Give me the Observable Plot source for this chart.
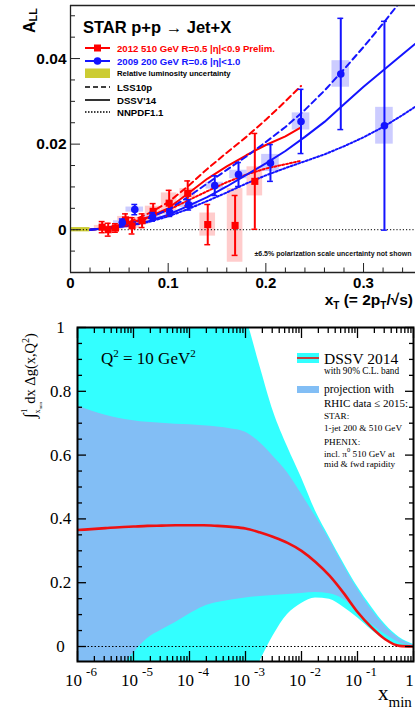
<!DOCTYPE html>
<html><head><meta charset="utf-8">
<script src="https://cdn.jsdelivr.net/npm/d3@7"></script>
<script src="https://cdn.jsdelivr.net/npm/@observablehq/plot@0.6"></script>
<style>
body{margin:0;background:#fff;}
svg{display:block;}
</style>
</head><body>
<div id="topPanel"></div>
<div id="botPanel"></div>
<script>
// ---------------- TOP PANEL DATA (STAR A_LL vs x_T) ----------------
const redX    = [0.0324, 0.0386, 0.046, 0.0563, 0.063, 0.0733, 0.0846, 0.101, 0.120, 0.1405, 0.1685, 0.1887];
const redY    = [0.0006, 0.0000, 0.0004, 0.0023, 0.0009, 0.0021, 0.0043, 0.0062, 0.0085, 0.0012, 0.0010, 0.0113];
const redStat = [0.0013, 0.0015, 0.0010, 0.0014, 0.0019, 0.0016, 0.0018, 0.0030, 0.0029, 0.0047, 0.0070, 0.0112];
const redSys  = [0.0004, 0.0004, 0.0004, 0.0008, 0.0006, 0.0008, 0.0012, 0.0024, 0.0011, 0.0027, 0.0086, 0.0034];

const blueX    = [0.053, 0.0658, 0.084, 0.1017, 0.121, 0.1477, 0.172, 0.2047, 0.236, 0.2767, 0.3214];
const blueY    = [0.0017, 0.0047, 0.0030, 0.0040, 0.0058, 0.0103, 0.0129, 0.0156, 0.0253, 0.0364, 0.0243];
const blueStat = [0.0008, 0.0012, 0.0010, 0.0009, 0.0012, 0.0023, 0.0028, 0.0043, 0.0075, 0.0130, 0.0244];
const blueSys  = [0.0004, 0.0006, 0.0004, 0.0005, 0.0006, 0.0008, 0.0010, 0.0020, 0.0020, 0.0031, 0.0043];

const theoryX510 = [0.02, 0.04, 0.06, 0.08, 0.10, 0.12, 0.14, 0.16, 0.18, 0.20, 0.22, 0.236];
const lss510     = [0, 0.0006, 0.0018, 0.0038, 0.0064, 0.0101, 0.0142, 0.0180, 0.0217, 0.0257, 0.0300, 0.0336];
const dssv510    = [0, 0.0005, 0.0015, 0.0030, 0.0050, 0.0084, 0.0119, 0.0148, 0.0174, 0.0198, 0.0218, 0.0239];
const nnpdf510   = [0, 0.0004, 0.0014, 0.0028, 0.0046, 0.0068, 0.0090, 0.0111, 0.0129, 0.0143, 0.0153, 0.0161];

const theoryX200 = [0.02, 0.04, 0.06, 0.08, 0.10, 0.12, 0.14, 0.16, 0.18, 0.20, 0.22, 0.24, 0.26, 0.28, 0.30, 0.32, 0.34, 0.36];
const lss200     = [0, 0.0005, 0.0013, 0.0027, 0.0047, 0.0076, 0.0108, 0.0140, 0.0171, 0.0205, 0.0240, 0.0280, 0.0325, 0.0375, 0.0427, 0.0482, 0.0540, 0.0600];
const dssv200    = [0, 0.0004, 0.0010, 0.0020, 0.0035, 0.0055, 0.0076, 0.0101, 0.0128, 0.0155, 0.0184, 0.0217, 0.0252, 0.0293, 0.0334, 0.0372, 0.0410, 0.0448];
const nnpdf200   = [0, 0.0003, 0.0009, 0.0018, 0.0031, 0.0048, 0.0067, 0.0087, 0.0108, 0.0127, 0.0144, 0.0160, 0.0176, 0.0195, 0.0216, 0.0240, 0.0268, 0.0298];

const lumiXRange = [0, 0.02];
const lumiUnc = 0.0005;

const xMajorTop = [0, 0.1, 0.2, 0.3];
const xMinorTop = [0.02, 0.04, 0.06, 0.08, 0.12, 0.14, 0.16, 0.18, 0.22, 0.24, 0.26, 0.28, 0.32, 0.34];
const yMajorTop = [0, 0.02, 0.04];
const yMinorTop = [-0.01, -0.005, 0.005, 0.01, 0.015, 0.025, 0.03, 0.035, 0.045, 0.05];
const xTickLabelsTop = ["0", "0.1", "0.2", "0.3"];
const yTickLabelsTop = ["0", "0.02", "0.04"];

// ---------------- BOTTOM PANEL DATA (integrated Delta g) ----------------
const log10X = [-6, -5.75, -5.5, -5.25, -5, -4.75, -4.5, -4.25, -4, -3.75, -3.5, -3.25, -3, -2.75, -2.5, -2.25, -2, -1.75, -1.5, -1.25, -1, -0.75, -0.5, -0.25, 0];
const cyanUpper = [1.1, 1.1, 1.1, 1.1, 1.1, 1.1, 1.1, 1.1, 1.1, 1.1, 1.1, 1.1, 1.032, 0.883, 0.735, 0.626, 0.529, 0.425, 0.342, 0.262, 0.187, 0.124, 0.068, 0.028, 0.006];
const cyanLower = [-0.2, -0.2, -0.2, -0.2, -0.2, -0.2, -0.2, -0.2, -0.2, -0.2, -0.2, -0.2, -0.14, -0.05, 0.035, 0.100, 0.135, 0.152, 0.148, 0.123, 0.090, 0.052, 0.021, 0.004, -0.004];
const projUpper = [0.755, 0.738, 0.725, 0.715, 0.708, 0.703, 0.700, 0.697, 0.695, 0.692, 0.688, 0.682, 0.672, 0.640, 0.595, 0.545, 0.478, 0.408, 0.335, 0.255, 0.180, 0.115, 0.062, 0.024, 0.004];
const projLower = [-0.1, -0.1, -0.1, -0.07, -0.02, 0.025, 0.052, 0.075, 0.102, 0.125, 0.138, 0.146, 0.152, 0.157, 0.160, 0.163, 0.166, 0.169, 0.165, 0.148, 0.110, 0.070, 0.038, 0.012, 0.002];
const dssvCentral = [0.365, 0.368, 0.371, 0.374, 0.376, 0.378, 0.379, 0.380, 0.380, 0.380, 0.378, 0.375, 0.370, 0.358, 0.343, 0.325, 0.300, 0.265, 0.222, 0.168, 0.108, 0.060, 0.022, 0.002, 0.0];

const decades = [1e-6, 1e-5, 1e-4, 1e-3, 1e-2, 1e-1, 1];
const decadeBase = ["10", "10", "10", "10", "10", "10", "1"];
const decadeExp = ["-6", "-5", "-4", "-3", "-2", "-1", ""];
const yMajorBot = [0, 0.2, 0.4, 0.6, 0.8, 1];
const yTickLabelsBot = ["0", "0.2", "0.4", "0.6", "0.8", "1"];
const yMinorBot = [0.05, 0.1, 0.15, 0.25, 0.3, 0.35, 0.45, 0.5, 0.55, 0.65, 0.7, 0.75, 0.85, 0.9, 0.95];

// ---------------- styles ----------------
const RED = "#ff0000", BLUE = "#1414ff";
const SANS = "'Liberation Sans', Arial, Helvetica, sans-serif";
const SERIF = "'Liberation Serif', 'Times New Roman', serif";
const CYAN = "#33ffff", LBLUE = "#82bef5", DRED = "#ee1111";

const redData = redX.map((x, i) => ({x, y: redY[i], stat: redStat[i], sys: redSys[i]}));
const blueData = blueX.map((x, i) => ({x, y: blueY[i], stat: blueStat[i], sys: blueSys[i]}));
const th510 = theoryX510.map((x, i) => ({x, lss: lss510[i], dssv: dssv510[i], nnpdf: nnpdf510[i]}));
const th200 = theoryX200.map((x, i) => ({x, lss: lss200[i], dssv: dssv200[i], nnpdf: nnpdf200[i]}));
const lumi = [{x1: lumiXRange[0], x2: lumiXRange[1], y1: -lumiUnc, y2: lumiUnc}];

const redHalf = 0.008, blueHalf = 0.009, cap = 0.003;

function annotation(draw) {
  return () => { const g = d3.create("svg:g").attr("text-anchor", "start"); draw(g); return g.node(); };
}

function errMarks(data, half, boxFill) {
  return [
    Plot.rect(data, {x1: d => d.x - half, x2: d => d.x + half, y1: d => d.y - d.sys, y2: d => d.y + d.sys, fill: boxFill})
  ];
}
function barMarks(data, color, symbol) {
  return [
    Plot.ruleX(data, {x: "x", y1: d => d.y - d.stat, y2: d => d.y + d.stat, stroke: color, strokeWidth: 2}),
    Plot.ruleY(data, {y: d => d.y + d.stat, x1: d => d.x - cap, x2: d => d.x + cap, stroke: color, strokeWidth: 1.5}),
    Plot.ruleY(data, {y: d => d.y - d.stat, x1: d => d.x - cap, x2: d => d.x + cap, stroke: color, strokeWidth: 1.5}),
    Plot.dot(data, {x: "x", y: "y", symbol, r: symbol === "square" ? 4 : 3.8, fill: color, stroke: "none"})
  ];
}

const yDomTop = [-0.0100, 0.0524];
const topPlot = Plot.plot({
  width: 415, height: 310,
  marginLeft: 70, marginRight: 0, marginTop: 5, marginBottom: 38,
  x: {domain: [0, 0.3532], label: null},
  y: {domain: yDomTop, label: null},
  style: {fontFamily: SANS, background: "white", color: "black"},
  marks: [
    Plot.rect(lumi, {x1: "x1", x2: "x2", y1: "y1", y2: "y2", fill: "#cccc33"}),
    ...errMarks(redData, redHalf, "#ffcccc"),
    ...errMarks(blueData, blueHalf, "#ccccff"),
    Plot.ruleY([0], {stroke: "black", strokeWidth: 1, strokeDasharray: "1.2,2"}),
    Plot.line(th510, {x: "x", y: "lss", stroke: RED, strokeWidth: 2, strokeDasharray: "6,4", clip: true}),
    Plot.line(th510, {x: "x", y: "dssv", stroke: RED, strokeWidth: 2, clip: true}),
    Plot.line(th510, {x: "x", y: "nnpdf", stroke: RED, strokeWidth: 2, strokeDasharray: "2,2", clip: true}),
    Plot.line(th200, {x: "x", y: "lss", stroke: BLUE, strokeWidth: 2, strokeDasharray: "6,4", clip: true}),
    Plot.line(th200, {x: "x", y: "dssv", stroke: BLUE, strokeWidth: 2, clip: true}),
    Plot.line(th200, {x: "x", y: "nnpdf", stroke: BLUE, strokeWidth: 2, strokeDasharray: "2,2", clip: true}),
    ...barMarks(redData, RED, "square"),
    ...barMarks(blueData, BLUE, "circle"),
    // frame (left, top, bottom)
    Plot.ruleX([0], {stroke: "#222", strokeWidth: 1.3}),
    Plot.ruleY([yDomTop[0]], {stroke: "#222", strokeWidth: 1.3}),
    Plot.ruleY([yDomTop[1]], {stroke: "#222", strokeWidth: 1.3}),
    // ticks (inside)
    Plot.axisX({anchor: "bottom", ticks: xMajorTop, tickSize: 9, dy: -9, fill: "none", stroke: "#222", label: null}),
    Plot.axisX({anchor: "bottom", ticks: xMinorTop, tickSize: 4.5, dy: -4.5, fill: "none", stroke: "#222", label: null}),
    Plot.axisY({anchor: "left", ticks: yMajorTop, tickSize: 10, dx: 10, fill: "none", stroke: "#222", label: null}),
    Plot.axisY({anchor: "left", ticks: yMinorTop, tickSize: 5, dx: 5, fill: "none", stroke: "#222", label: null}),
    // tick labels
    Plot.axisX({anchor: "bottom", ticks: xMajorTop, tickSize: 0, tickPadding: 5, stroke: "none", fill: "black",
      tickFormat: (d, i) => xTickLabelsTop[i], fontSize: 15, fontWeight: "bold", label: null}),
    Plot.axisY({anchor: "left", ticks: yMajorTop, tickSize: 0, tickPadding: 4, stroke: "none", fill: "black",
      tickFormat: (d, i) => yTickLabelsTop[i], fontSize: 15.5, fontWeight: "bold", label: null}),
    Plot.text(["±6.5% polarization scale uncertainty not shown"], {frameAnchor: "bottom-right", dx: -4, dy: -17,
      text: d => d, textAnchor: "end", fontSize: 7, fontWeight: "bold", fill: "#111"}),
    annotation(g => {
      g.attr("font-family", SANS).attr("font-weight", "bold").attr("fill", "black");
      // title
      g.append("text").attr("x", 83).attr("y", 33).attr("font-size", 16.5).text("STAR p+p \u2192 Jet+X");
      // legend entries
      const sx1 = 85, sx2 = 110, tx = 117;
      g.append("line").attr("x1", sx1).attr("x2", sx2).attr("y1", 48).attr("y2", 48).attr("stroke", RED).attr("stroke-width", 2);
      g.append("rect").attr("x", 94).attr("y", 44.5).attr("width", 7).attr("height", 7).attr("fill", RED);
      g.append("text").attr("x", tx).attr("y", 51.5).attr("font-size", 9.6).attr("fill", RED).text("2012 510 GeV R=0.5 |\u03b7|<0.9 Prelim.");
      g.append("line").attr("x1", sx1).attr("x2", sx2).attr("y1", 61).attr("y2", 61).attr("stroke", BLUE).attr("stroke-width", 2);
      g.append("circle").attr("cx", 97.5).attr("cy", 61).attr("r", 3.8).attr("fill", BLUE);
      g.append("text").attr("x", tx).attr("y", 64.5).attr("font-size", 9.6).attr("fill", BLUE).text("2009 200 GeV R=0.6 |\u03b7|<1.0");
      g.append("rect").attr("x", sx1).attr("y", 68.5).attr("width", sx2 - sx1).attr("height", 9.5).attr("fill", "#cccc33");
      g.append("text").attr("x", tx).attr("y", 76).attr("font-size", 7.7).text("Relative luminosity uncertainty");
      g.append("line").attr("x1", sx1).attr("x2", sx2).attr("y1", 87).attr("y2", 87).attr("stroke", "black").attr("stroke-width", 1.6).attr("stroke-dasharray", "5,3");
      g.append("text").attr("x", tx).attr("y", 90.5).attr("font-size", 9.6).text("LSS10p");
      g.append("line").attr("x1", sx1).attr("x2", sx2).attr("y1", 100).attr("y2", 100).attr("stroke", "black").attr("stroke-width", 1.6);
      g.append("text").attr("x", tx).attr("y", 103.5).attr("font-size", 9.6).text("DSSV'14");
      g.append("line").attr("x1", sx1).attr("x2", sx2).attr("y1", 112).attr("y2", 112).attr("stroke", "black").attr("stroke-width", 1.6).attr("stroke-dasharray", "1.5,1.5");
      g.append("text").attr("x", tx).attr("y", 115.5).attr("font-size", 9.6).text("NNPDF1.1");
      // y label A_LL (rotated)
      const a = g.append("text").attr("transform", "translate(35,33) rotate(-90)").attr("font-size", 16);
      a.append("tspan").text("A");
      a.append("tspan").attr("font-size", 11).attr("dy", 2).text("LL");
      // x label
      const xl = g.append("text").attr("x", 413).attr("y", 305).attr("text-anchor", "end").attr("font-size", 15.5);
      xl.append("tspan").text("x");
      xl.append("tspan").attr("font-size", 10).attr("dy", 4).text("T");
      xl.append("tspan").attr("dy", -4).text(" (= 2p");
      xl.append("tspan").attr("font-size", 10).attr("dy", 4).text("T");
      xl.append("tspan").attr("dy", -4).text("/\u221as)");
    })
  ]
});
document.getElementById("topPanel").appendChild(topPlot);

// ---------------- bottom panel ----------------
const band = log10X.map((e, i) => ({x: Math.pow(10, e), cu: cyanUpper[i], cl: cyanLower[i], bu: projUpper[i], bl: projLower[i], c: dssvCentral[i]}));
const minorDec = decades.slice(0, -1).flatMap(d => [2, 3, 4, 5, 6, 7, 8, 9].map(m => m * d));
const OFF = 310;
const yDomBot = [-0.047, 1];

const botPlot = Plot.plot({
  width: 415, height: 399,
  marginLeft: 77, marginRight: 2, marginTop: 17, marginBottom: 48,
  x: {type: "log", domain: [1e-6, 1], label: null},
  y: {domain: yDomBot, label: null},
  style: {fontFamily: SERIF, background: "white", color: "black"},
  marks: [
    Plot.areaY(band, {x: "x", y1: "cl", y2: "cu", fill: CYAN, curve: "monotone-x", clip: true}),
    Plot.areaY(band, {x: "x", y1: "bl", y2: "bu", fill: LBLUE, curve: "monotone-x", clip: true}),
    Plot.ruleY([0], {stroke: "black", strokeWidth: 1, strokeDasharray: "1.5,2"}),
    Plot.line(band, {x: "x", y: "c", stroke: DRED, strokeWidth: 2.6, curve: "monotone-x", clip: true}),
    Plot.frame({stroke: "black", strokeWidth: 2}),
    Plot.axisX({anchor: "bottom", ticks: decades, tickSize: 10, dy: -10, fill: "none", stroke: "black", strokeWidth: 1.3, label: null}),
    Plot.axisX({anchor: "bottom", ticks: minorDec, tickSize: 5, dy: -5, fill: "none", stroke: "black", strokeWidth: 1.3, label: null}),
    Plot.axisX({anchor: "top", ticks: decades, tickSize: 10, dy: 10, fill: "none", stroke: "black", strokeWidth: 1.3, label: null}),
    Plot.axisX({anchor: "top", ticks: minorDec, tickSize: 5, dy: 5, fill: "none", stroke: "black", strokeWidth: 1.3, label: null}),
    Plot.axisY({anchor: "left", ticks: yMajorBot, tickSize: 9, dx: 9, fill: "none", stroke: "black", strokeWidth: 1.3, label: null}),
    Plot.axisY({anchor: "left", ticks: yMinorBot, tickSize: 5, dx: 5, fill: "none", stroke: "black", strokeWidth: 1.3, label: null}),
    Plot.axisY({anchor: "right", ticks: yMajorBot, tickSize: 9, dx: -9, fill: "none", stroke: "black", strokeWidth: 1.3, label: null}),
    Plot.axisY({anchor: "right", ticks: yMinorBot, tickSize: 5, dx: -5, fill: "none", stroke: "black", strokeWidth: 1.3, label: null}),
    Plot.axisY({anchor: "left", ticks: yMajorBot, tickSize: 0, tickPadding: 17, textAnchor: "middle", stroke: "none", fill: "black",
      tickFormat: (d, i) => yTickLabelsBot[i], fontSize: 17, label: null}),
    Plot.text(decades, {x: d => d, frameAnchor: "bottom", text: (d, i) => decadeBase[i], dx: -4, dy: 24.5, fontSize: 17, fill: "black"}),
    Plot.text(decades, {x: d => d, frameAnchor: "bottom", text: (d, i) => decadeExp[i], dx: 14, dy: 14.5, fontSize: 13, fill: "black"}),
    annotation(g => {
      g.attr("font-family", SERIF).attr("fill", "black");
      const q = g.append("text").attr("x", 101).attr("y", 364 - OFF).attr("font-size", 17);
      q.append("tspan").text("Q");
      q.append("tspan").attr("font-size", 11).attr("dy", -7).text("2");
      q.append("tspan").attr("dy", 7).text(" = 10 GeV");
      q.append("tspan").attr("font-size", 11).attr("dy", -7).text("2");
      // legend
      g.append("rect").attr("x", 297).attr("y", 353 - OFF).attr("width", 22).attr("height", 10).attr("fill", CYAN);
      g.append("line").attr("x1", 297).attr("x2", 319).attr("y1", 358 - OFF).attr("y2", 358 - OFF).attr("stroke", DRED).attr("stroke-width", 1.6);
      g.append("text").attr("x", 324).attr("y", 363.5 - OFF).attr("font-size", 15.5).text("DSSV 2014");
      g.append("text").attr("x", 324).attr("y", 373.5 - OFF).attr("font-size", 9.3).text("with 90% C.L. band");
      g.append("rect").attr("x", 297).attr("y", 386 - OFF).attr("width", 22).attr("height", 7).attr("fill", LBLUE);
      g.append("text").attr("x", 324).attr("y", 392.5 - OFF).attr("font-size", 11.5).text("projection with");
      g.append("text").attr("x", 324).attr("y", 407 - OFF).attr("font-size", 11).text("RHIC data \u2264 2015:");
      g.append("text").attr("x", 324).attr("y", 418.5 - OFF).attr("font-size", 9.2).text("STAR:");
      g.append("text").attr("x", 324).attr("y", 430.5 - OFF).attr("font-size", 9.2).text("1-jet 200 & 510 GeV");
      g.append("text").attr("x", 324).attr("y", 444.5 - OFF).attr("font-size", 9.2).text("PHENIX:");
      const inc = g.append("text").attr("x", 324).attr("y", 456.5 - OFF).attr("font-size", 9.2);
      inc.append("tspan").text("incl. \u03c0");
      inc.append("tspan").attr("font-size", 6.5).attr("dy", -5).text("0");
      inc.append("tspan").attr("dy", 5).text(" 510 GeV at");
      g.append("text").attr("x", 324).attr("y", 467 - OFF).attr("font-size", 9.2).text("mid & fwd rapidity");
      // y label (rotated)
      const yl = g.append("text").attr("transform", `translate(35,${418 - OFF}) rotate(-90)`).attr("font-size", 14.5);
      yl.append("tspan").attr("font-size", 17).text("\u222b");
      yl.append("tspan").attr("font-size", 7.5).attr("dy", 5).text("x");
      yl.append("tspan").attr("font-size", 5).attr("dy", 2).text("min");
      yl.append("tspan").attr("font-size", 8).attr("dx", -11).attr("dy", -15).text("1");
      yl.append("tspan").attr("dx", 5).attr("dy", 8).text("dx \u0394g(x,Q");
      yl.append("tspan").attr("font-size", 10).attr("dy", -6).text("2");
      yl.append("tspan").attr("dy", 6).text(")");
      // x label
      const xl = g.append("text").attr("x", 378).attr("y", 700 - OFF).attr("font-size", 21);
      xl.append("tspan").text("x");
      xl.append("tspan").attr("font-size", 15).attr("dy", 7).text("min");
    })
  ]
});
document.getElementById("botPanel").appendChild(botPlot);
</script>
</body></html>
